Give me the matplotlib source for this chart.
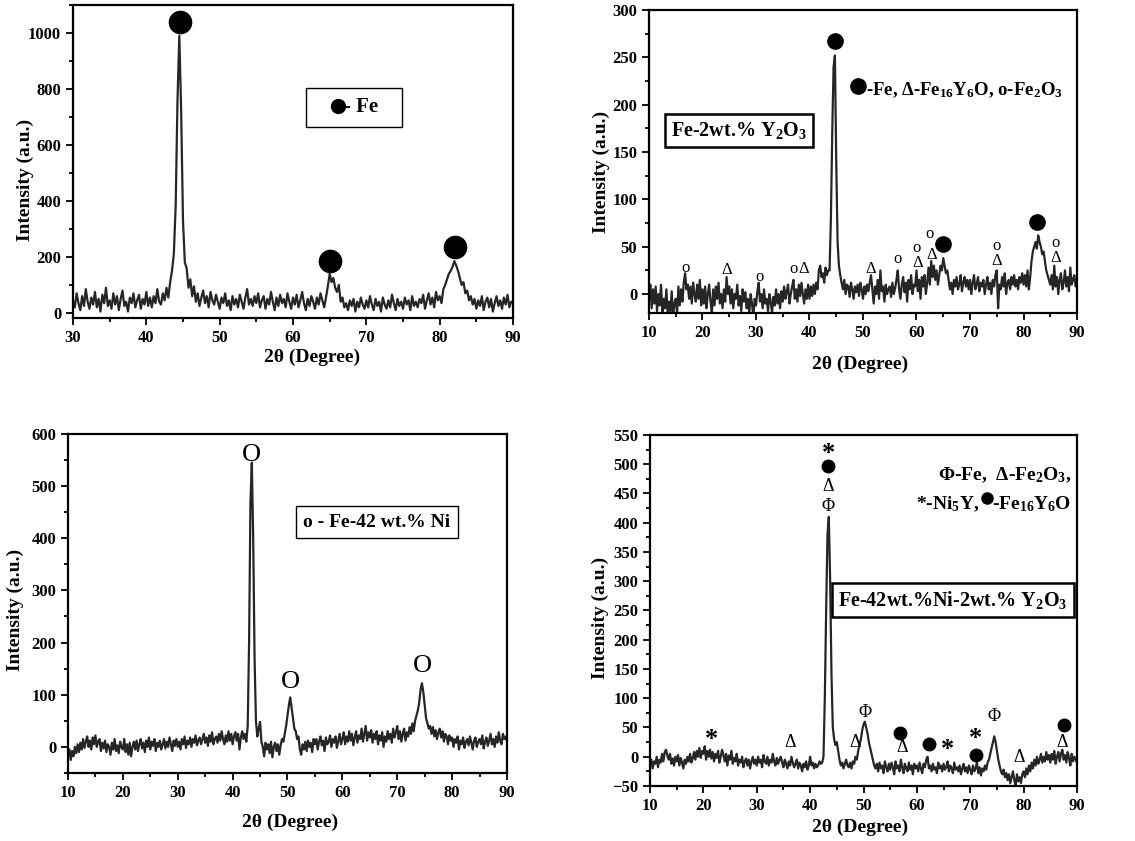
import numpy as np
import matplotlib
matplotlib.use("Agg")
import matplotlib.pyplot as plt
from matplotlib.patches import Rectangle
from matplotlib.ticker import MultipleLocator

plt.rcParams["font.family"] = ["Liberation Serif", "DejaVu Serif"]
plt.rcParams["font.weight"] = "bold"
plt.rcParams["mathtext.fontset"] = "custom"
plt.rcParams["mathtext.rm"] = "Liberation Serif:bold"
plt.rcParams["mathtext.bf"] = "Liberation Serif:bold"
plt.rcParams["mathtext.it"] = "Liberation Serif:bold"
plt.rcParams["mathtext.default"] = "rm"

# ---- data (0.25 degree steps) ----
x_fe = np.arange(30, 90.001, 0.25)
y_fe = [
    45, 20, 70, 35, 10, 60, 25, 85, 40, 15, 55, 30, 75, 20, 50, 5, 65, 35, 90, 25,
    45, 15, 70, 30, 60, 10, 50, 80, 25, 40, 5, 55, 35, 70, 20, 45, 65, 15, 50, 30,
    75, 25, 55, 20, 60, 35, 85, 40, 30, 70, 45, 90, 55, 110, 150, 210, 380, 760, 990, 720,
    330, 180, 160, 90, 120, 60, 95, 40, 70, 25, 55, 80, 35, 60, 20, 75, 45, 30, 65, 40,
    15, 55, 35, 70, 25, 45, 10, 60, 30, 50, 20, 65, 40, 15, 55, 85, 30, 50, 25, 60,
    35, 70, 20, 45, 60, 15, 50, 30, 75, 40, 10, 55, 25, 65, 35, 50, 20, 70, 40, 15,
    55, 30, 65, 20, 45, 75, 35, 10, 50, 25, 60, 40, 15, 55, 30, 70, 45, 20, 55, 95,
    140, 110, 125, 90, 75, 100, 40, 55, 20, 35, 10, 45, 25, 50, 5, 40, 20, 55, 30, 15,
    45, 20, 60, 30, 10, 50, 25, 40, 5, 55, 30, 15, 45, 20, 65, 35, 10, 50, 25, 40,
    15, 55, 30, 45, 10, 60, 25, 40, 20, 50, 35, 65, 15, 45, 70, 30, 55, 20, 75, 45,
    60, 35, 85, 100, 120, 140, 150, 165, 185, 170, 150, 125, 100, 110, 70, 80, 45, 60, 30, 50,
    15, 45, 25, 60, 10, 40, 55, 20, 50, 5, 35, 60, 25, 45, 15, 55, 30, 65, 20, 40, 35,
]

x_fey = np.arange(10, 90.001, 0.25)
y_fey = [
    -5, 10, -15, 5, -10, 8, -18, 0, -12, 10, -20, -5, -15, 5, -22, -8, -18, 3, -25, -10,
    -5, -20, 8, -12, 5, -8, 12, 22, 5, 10, -5, 8, -10, 12, 0, -8, 10, -5, 15, -12,
    5, -10, 8, -15, 0, 10, -8, -20, 5, -12, 8, -5, 12, -10, 0, -15, 5, -8, 18, 0,
    8, -10, 5, -15, 0, -5, 10, -12, -2, -18, 5, -8, 2, -15, -5, -20, 0, -10, -25, -5,
    -12, 2, 12, -8, 0, -15, 5, -10, -5, -18, 0, -8, -20, -3, -12, 5, -10, 0, -15, 3,
    -8, 8, -5, 3, 10, -10, 0, 8, 15, -5, 5, -8, 10, -2, 12, 0, -10, 5, -5, 10,
    -5, 8, -2, 10, 0, 12, 5, 25, 30, 18, 22, 12, 28, 20, 25, 25, 80, 170, 240, 252,
    140, 55, 30, 20, 12, 5, 15, 0, 10, 8, -3, 12, 5, -5, 8, 2, 10, -2, 12, 5,
    -5, 8, 0, 10, 3, 12, 20, 5, -10, 8, 0, 15, -5, 25, 3, 8, -8, 10, 0, 5,
    8, -3, 12, 0, 6, 15, 25, 5, -5, 10, 18, 2, 12, -8, 15, 5, 20, 0, 10, 8,
    25, 3, 15, -5, 18, 8, 20, 0, 12, 28, 10, 35, 18, 30, 15, 25, 10, 20, 30, 25,
    38, 30, 22, 25, 15, 5, 12, 0, 15, 8, 18, 5, 10, 20, 3, 12, 18, 8, 15, 5,
    15, 0, 12, 20, 5, 10, 18, 3, 12, 8, 15, 0, 10, 18, 5, 12, 0, 15, 8, 20,
    25, -15, 10, 5, 18, 8, 22, 0, 12, 15, 5, 18, 10, 20, 8, 15, 5, 18, 12, 22,
    10, 20, 8, 25, 5, 18, 35, 45, 50, 55, 48, 62, 55, 50, 42, 45, 35, 25, 20, 15,
    10, 20, 5, 30, 8, 18, 0, 15, 22, 5, 12, 25, 8, 18, 3, 28, 10, 15, 20, 8, 12,
]

x_feni = np.arange(10, 90.001, 0.25)
y_feni = [
    -15, -5, -25, -8, -18, 0, -12, 5, -10, 8, -5, 15, -2, 10, 20, 0, 12, -5, 18, 5,
    22, 0, 10, 15, -8, 8, -3, 12, -10, 5, 0, -15, 8, -5, 15, -8, 3, -12, 10, 0,
    -5, 15, -10, 5, -15, 8, -18, 0, 10, -5, 12, -8, 5, 15, -3, 8, -10, 12, 0, 18,
    -5, 10, 2, 15, -8, 8, 0, 12, -5, 5, 15, -3, 10, 0, 18, 5, -8, 12, 2, 15,
    0, 10, -5, 15, 5, 20, -2, 12, 5, 18, 0, 15, 8, 22, 3, 12, 18, 5, 15, 25,
    8, 18, 2, 22, 10, 28, 5, 15, 20, 8, 25, 12, 30, 15, 5, 22, 10, 30, 12, 25,
    5, 20, 28, 12, 25, -5, 18, 30, 15, 25, 10, 40, 200, 470, 545, 400, 170, 50, 20, 35,
    48, 10, 0, -18, 8, -5, 5, -12, 10, -20, 0, 8, -8, 5, -15, 3, 15, 10, 25, 40,
    60, 80, 95, 75, 55, 35, 30, 15, 20, -5, -15, 5, -5, 10, -8, 12, 0, 8, -10, 15,
    5, 15, -5, 10, 20, 3, 12, -8, 18, 5, 10, 22, 0, 15, 8, 20, -2, 12, 25, 5,
    15, 28, 5, 20, 10, 30, 12, 25, 3, 18, 30, 8, 22, 15, 35, 10, 25, 40, 12, 28,
    18, 32, 8, 25, 15, 30, 5, 22, 12, 28, 0, 20, 10, 30, 15, 25, 8, 35, 18, 28,
    40, 15, 30, 10, 25, 35, 12, 28, 20, 38, 25, 45, 30, 50, 60, 70, 85, 110, 122, 105,
    80, 55, 45, 35, 40, 25, 38, 20, 32, 15, 28, 35, 18, 30, 10, 25, 20, 5, 22, 12,
    18, 0, 15, 8, 20, -5, 12, 5, 18, -2, 10, 15, 3, 20, 8, -5, 12, 18, 0, 10,
    15, 5, 22, -3, 10, 18, 2, 12, 25, 5, 15, 0, 20, 8, 28, 12, 5, 25, 15, 20, 10,
]

x_feniy = np.arange(10, 90.001, 0.25)
y_feniy = [
    -15, -5, -20, -8, -12, 0, -18, -5, -10, 5, -8, 8, 12, 2, -5, 5, -12, -3, -15, 0,
    -8, 3, -15, -2, -10, -20, -5, -12, 0, -8, 5, -10, -3, 8, -5, 10, 0, 15, -2, 10,
    5, 18, -5, 10, 0, 12, -3, 8, -8, 5, -2, 10, -10, 0, 12, 3, -8, 5, -15, 2,
    -5, 10, -12, -2, -8, 5, -15, -5, -10, 0, -18, -8, -3, -15, -5, -20, -8, 0, -12, -5,
    -15, 0, -10, -5, -18, 3, -8, -12, 0, -15, -5, -10, 5, -8, -15, -2, -12, -5, 0, -10,
    -18, -5, -12, -20, -8, -15, 0, -10, -18, -12, -5, -20, -10, -15, -25, -12, -18, -8, -22, -15,
    0, -15, -10, -20, -12, -18, -15, -8, -12, -10, 0, 100, 250, 380, 410, 300, 140, 50, 30, 20,
    25, 10, -5, -15, -10, -20, -12, -5, -15, -18, -10, -20, -8, -12, 0, -5, 10, 20, 30, 45,
    55, 60, 50, 40, 25, 15, 5, -5, -15, -20, -12, -25, -10, -20, -15, -28, -8, -18, -25, -12,
    -22, -10, -18, -30, -8, -20, -15, -25, -5, -18, -28, -12, -20, -25, -10, -22, -15, -30, -12, -20,
    -15, -25, -10, -20, -28, -12, -18, -5, 0, -20, -15, -25, -12, -22, -18, -28, -10, -20, -15, -25,
    -12, -22, -18, -8, -25, -15, -20, -28, -10, -22, -18, -25, -15, -30, -20, -12, -25, -18, -28, -15,
    -22, -30, -15, -25, -20, -10, -28, -18, -32, -20, -25, -15, -22, -10, -5, 5, 15, 25, 35, 25,
    10, -5, -15, -25, -30, -22, -35, -28, -40, -30, -45, -35, -25, -40, -50, -30, -42, -35, -45, -30,
    -25, -35, -20, -30, -15, -25, -10, -20, -5, -15, 0, -12, -5, 5, -10, 0, -8, 8, -5, 3,
    -10, 5, -5, 10, -12, 0, 8, -8, 5, 12, -5, 3, -10, 8, -2, -15, 5, -8, 0, -5, -10,
]

# peak markers
fe_dots_x = [44.6, 65.0, 82.1]
fe_dots_y = [1040, 185, 235]

fey_dots_x = [44.7, 64.9, 82.6]
fey_dots_y = [267, 53, 76]
fey_o_x = [16.8, 30.7, 37.1, 56.5, 60.0, 62.5, 75.0, 86.0]
fey_o_y = [28, 18, 26, 37, 49, 63, 51, 54]
fey_tri_x = [24.5, 39.0, 51.5, 60.2, 62.9, 75.0, 86.0]
fey_tri_y = [25, 26, 27, 33, 41, 35, 38]

feni_o_x = [43.4, 50.6, 74.6]
feni_o_y = [560, 125, 155]

feniy_phi_x = [43.4, 50.3, 74.5]
feniy_phi_y = [428, 75, 68]
feniy_tri_x = [43.4, 36.2, 48.5, 57.3, 79.2, 87.2]
feniy_tri_y = [462, 25, 25, 15, -2, 25]
feniy_dot_x = [43.4, 56.8, 62.2, 71.0, 87.5]
feniy_dot_y = [497, 40, 22, 3, 55]
feniy_star_x = [43.4, 21.5, 65.8, 71.0]
feniy_star_y = [518, 30, 12, 32]

line_c = "#262626"
fig = plt.figure(figsize=(11.35, 8.41), dpi=100)


def style_axis(ax, xlim, ylim, xmaj, ymaj, ymin, ylab_xy, xlab_xy):
    ax.set_xlim(*xlim)
    ax.set_ylim(*ylim)
    ax.xaxis.set_major_locator(MultipleLocator(xmaj))
    ax.xaxis.set_minor_locator(MultipleLocator(xmaj / 2))
    ax.yaxis.set_major_locator(MultipleLocator(ymaj))
    ax.yaxis.set_minor_locator(MultipleLocator(ymin))
    ax.tick_params(which="both", direction="out", width=1.3, labelsize=12)
    ax.tick_params(which="major", length=5)
    ax.tick_params(which="minor", length=3)
    for lab in ax.get_xticklabels() + ax.get_yticklabels():
        lab.set_fontweight("bold")
    for s in ax.spines.values():
        s.set_linewidth(1.6)
    ax.set_xlabel("2θ (Degree)", fontsize=14, fontweight="bold")
    ax.set_ylabel("Intensity (a.u.)", fontsize=14, fontweight="bold")
    # label anchors: ylabel -> right edge, xlabel -> top edge
    ax.yaxis.set_label_coords(*ylab_xy)
    ax.xaxis.set_label_coords(*xlab_xy)


box = dict(boxstyle="square,pad=0.4", fc="white", ec="black", lw=1.0)
box_thick = dict(boxstyle="square,pad=0.3", fc="white", ec="black", lw=1.8)

# panel 1: Fe
ax1 = fig.add_axes([0.0643, 0.6219, 0.3877, 0.3722])
ax1.plot(x_fe, y_fe, color=line_c, lw=1.6)
ax1.plot(fe_dots_x, fe_dots_y, "o", color="black", ms=16)
style_axis(ax1, (30, 90), (-18, 1100), 10, 200, 100, (-0.089, 0.44), (0.543, -0.099))
ax1.add_patch(Rectangle((61.8, 664), 13.1, 140, fill=False, ec="black", lw=1.0))
ax1.plot([66.1], [738], "o", color="black", ms=10)
ax1.text(66.9, 735, "- Fe", fontsize=15, ha="left", va="center")

# panel 2: Fe-2wt.% Y2O3
ax2 = fig.add_axes([0.5718, 0.6278, 0.3771, 0.3603])
ax2.plot(x_fey, y_fey, color=line_c, lw=1.6)
ax2.plot(fey_dots_x, fey_dots_y, "o", color="black", ms=11)
for xx, yy in zip(fey_o_x, fey_o_y):
    ax2.text(xx, yy, "o", fontsize=12, ha="center", va="center", fontweight="normal")
for xx, yy in zip(fey_tri_x, fey_tri_y):
    ax2.text(xx, yy, "Δ", fontsize=12, ha="center", va="center", fontweight="normal")
style_axis(ax2, (10, 90), (-20, 300), 10, 50, 25, (-0.091, 0.465), (0.493, -0.14))
ax2.plot([49.1], [220], "o", color="black", ms=11)
ax2.text(50.6, 215, r"-Fe, Δ-Fe$_{16}$Y$_{6}$O, o-Fe$_{2}$O$_{3}$", fontsize=13.5,
         ha="left", va="center")
ax2.text(26.8, 173, r"Fe-2wt.% Y$_2$O$_3$", fontsize=14.5, ha="center", va="center",
         bbox=box_thick)

# panel 3: Fe-42 wt.% Ni
ax3 = fig.add_axes([0.0599, 0.0809, 0.3868, 0.4031])
ax3.plot(x_feni, y_feni, color=line_c, lw=1.6)
for xx, yy in zip(feni_o_x, feni_o_y):
    ax3.text(xx, yy, "O", fontsize=19, ha="center", va="center", fontweight="normal")
style_axis(ax3, (10, 90), (-50, 600), 10, 100, 50, (-0.100, 0.48), (0.506, -0.121))
ax3.text(66.3, 431, "o - Fe-42 wt.% Ni", fontsize=14, ha="center", va="center", bbox=box)

# panel 4: Fe-42wt.%Ni-2wt.% Y2O3
ax4 = fig.add_axes([0.5727, 0.0654, 0.3762, 0.4174])
ax4.plot(x_feniy, y_feniy, color=line_c, lw=1.6)
for xx, yy in zip(feniy_phi_x, feniy_phi_y):
    ax4.text(xx, yy, "Φ", fontsize=13, ha="center", va="center", fontweight="normal")
for xx, yy in zip(feniy_tri_x, feniy_tri_y):
    ax4.text(xx, yy, "Δ", fontsize=13, ha="center", va="center", fontweight="normal")
ax4.plot(feniy_dot_x, feniy_dot_y, "o", color="black", ms=9)
for xx, yy in zip(feniy_star_x, feniy_star_y):
    ax4.text(xx, yy, "*", fontsize=19, ha="center", va="center")
style_axis(ax4, (10, 90), (-50, 550), 10, 50, 25, (-0.096, 0.48), (0.492, -0.094))
ax4.text(89, 482, r"Φ-Fe,  Δ-Fe$_2$O$_3$,", fontsize=14, ha="right", va="center")
ax4.text(71.8, 432, r"*-Ni$_5$Y,", fontsize=14, ha="right", va="center")
ax4.plot([73.1], [443], "o", color="black", ms=8)
ax4.text(74.0, 432, r"-Fe$_{16}$Y$_6$O", fontsize=14, ha="left", va="center")
ax4.text(66.8, 268, r"Fe-42wt.%Ni-2wt.% Y$_2$O$_3$", fontsize=14.5, ha="center",
         va="center", bbox=box_thick)

fig.savefig("out.png", dpi=100)
